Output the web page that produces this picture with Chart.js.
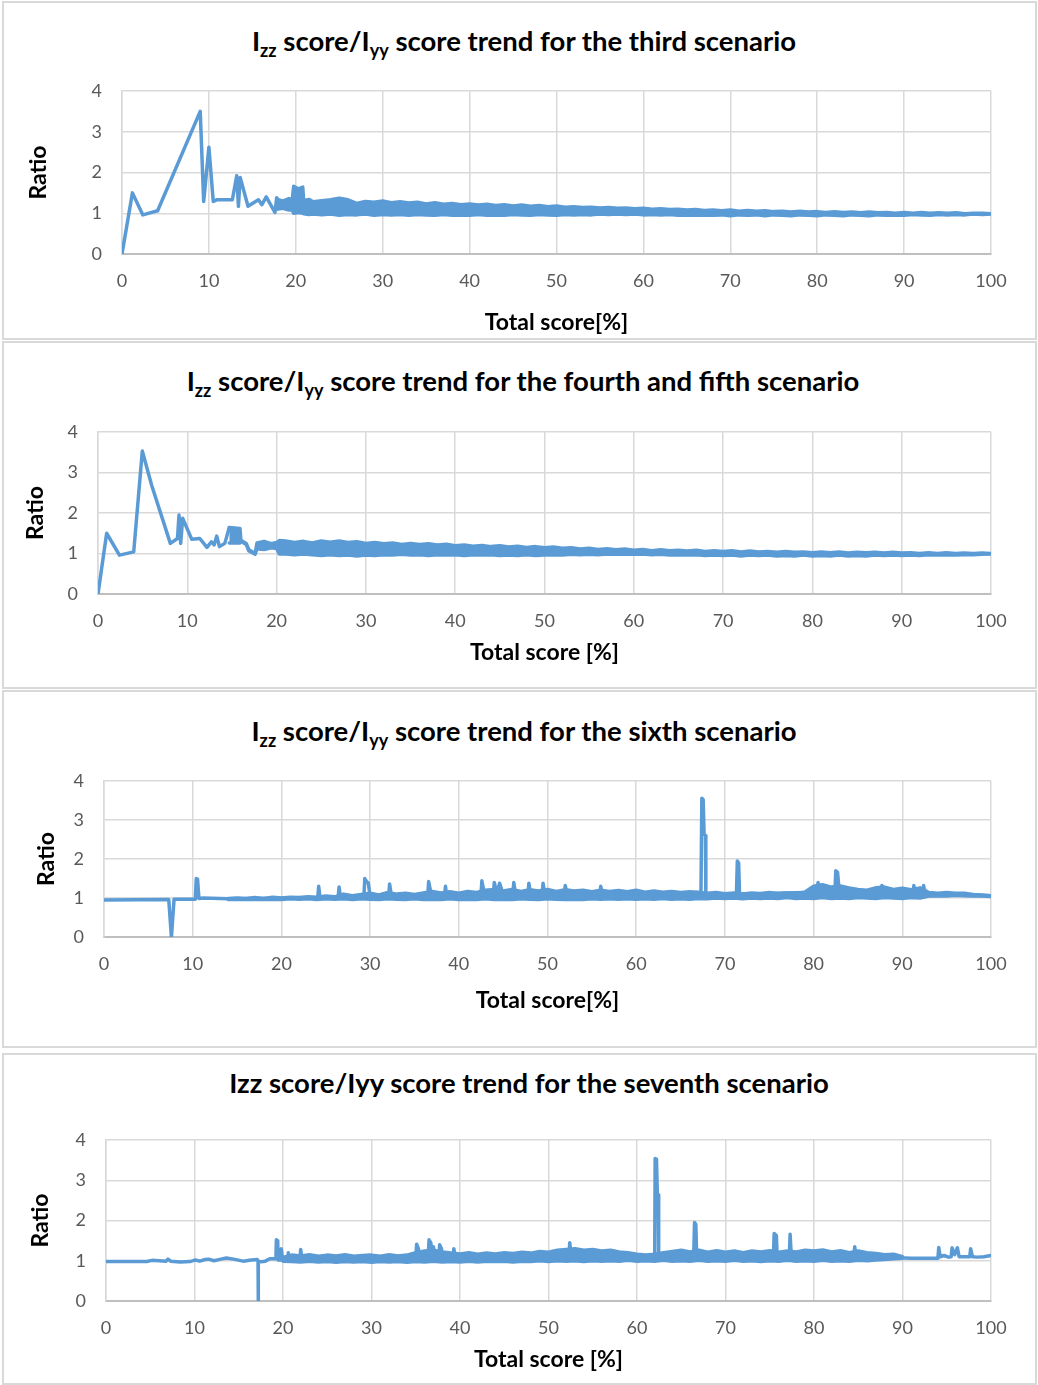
<!DOCTYPE html>
<html>
<head>
<meta charset="utf-8">
<script src="https://cdn.jsdelivr.net/npm/chart.js@4.4.1/dist/chart.umd.min.js"></script>
<style>
  body { margin: 0; background: #fff; width: 1038px; height: 1385px; position: relative; overflow: hidden; font-family: Lato, sans-serif; }
  .panel { position: absolute; left: 2px; width: 1035px; border: 2px solid #d9d9d9; box-sizing: border-box; }
  .wrap { position: absolute; left: 0; width: 1038px; }
  .ttl { position: absolute; width: 1000px; text-align: center; font-weight: bold; font-size: 27.5px; line-height: 30px; color: #000; white-space: nowrap; }
  .ttl sub { font-size: 18px; vertical-align: -6px; line-height: 0; }
</style>
</head>
<body>
<div class="panel" style="top:1px;height:339px"></div>
<div class="panel" style="top:341px;height:348px"></div>
<div class="panel" style="top:690px;height:358px"></div>
<div class="panel" style="top:1053px;height:332px"></div>

<div class="ttl" style="left:24px;top:26px">I<sub>zz</sub> score/I<sub>yy</sub> score trend for the third scenario</div>
<div class="ttl" style="left:23px;top:366px">I<sub>zz</sub> score/I<sub>yy</sub> score trend for the fourth and fifth scenario</div>
<div class="ttl" style="left:24px;top:716px">I<sub>zz</sub> score/I<sub>yy</sub> score trend for the sixth scenario</div>
<div class="ttl" style="left:29px;top:1068px">Izz score/Iyy score trend for the seventh scenario</div>

<div class="wrap" style="top:0px"><canvas id="c1" width="1038" height="340"></canvas></div>
<div class="wrap" style="top:340px"><canvas id="c2" width="1038" height="350"></canvas></div>
<div class="wrap" style="top:690px"><canvas id="c3" width="1038" height="360"></canvas></div>
<div class="wrap" style="top:1050px"><canvas id="c4" width="1038" height="335"></canvas></div>

<script>
// ---- data ----
const xTicks = [0, 10, 20, 30, 40, 50, 60, 70, 80, 90, 100];
const yTicks = [0, 1, 2, 3, 4];

// third scenario: sparse start, then a dense noisy band (upper / lower edge)
const traceX1 = [0, 1.2, 2.4, 4.1, 9.0, 9.4, 10.0, 10.5, 10.9, 12.7, 13.2, 13.4, 13.6, 14.5, 15.7, 16.1, 16.6, 17.6, 17.8, 18.4];
const traceY1 = [0, 1.5, 0.96, 1.06, 3.5, 1.29, 2.62, 1.29, 1.33, 1.33, 1.92, 1.17, 1.88, 1.17, 1.33, 1.21, 1.4, 1.02, 1.38, 1.2];
const bandX1 = [17.8, 18.5, 19.2, 19.6, 19.75, 20.3, 20.8, 20.9, 21.5,
  22, 23, 24, 25, 26, 27, 28, 29, 30, 31, 32, 33, 34, 35, 36, 37, 38, 39, 40, 41,
  42, 43, 44, 45, 46, 47, 48, 49, 50, 51, 52, 53, 54, 55, 56, 57, 58, 59, 60, 61,
  62, 63, 64, 65, 66, 67, 68, 69, 70, 71, 72, 73, 74, 75, 76, 77, 78, 79, 80, 81,
  82, 83, 84, 85, 86, 87, 88, 89, 90, 91, 92, 93, 94, 95, 96, 97, 98, 99, 100];
const bandHi1 = [1.34, 1.3, 1.36, 1.34, 1.66, 1.6, 1.64, 1.31, 1.34,
  1.28, 1.31, 1.33, 1.37, 1.33, 1.24, 1.29, 1.27, 1.3, 1.26, 1.28, 1.25, 1.27, 1.23, 1.26, 1.22, 1.24, 1.21, 1.23, 1.2,
  1.22, 1.19, 1.21, 1.18, 1.2, 1.17, 1.19, 1.16, 1.18, 1.15, 1.16, 1.14, 1.15, 1.13, 1.14, 1.12, 1.13, 1.11, 1.12, 1.1,
  1.11, 1.09, 1.1, 1.08, 1.09, 1.07, 1.08, 1.06, 1.08, 1.05, 1.07, 1.05, 1.06, 1.04, 1.05, 1.03, 1.05, 1.03, 1.04, 1.02,
  1.04, 1.02, 1.03, 1.01, 1.03, 1.01, 1.02, 1.0, 1.02, 1.0, 1.02, 1.0, 1.01, 1.0, 1.01, 0.99, 1.0, 1.0, 0.99];
const bandLo1 = [1.1, 1.12, 1.08, 1.08, 1.0, 1.02, 1.0, 0.99, 0.97,
  0.98, 0.96, 0.98, 0.95, 0.97, 0.96, 0.98, 0.95, 0.97, 0.96, 0.97, 0.95, 0.97, 0.96, 0.95, 0.97, 0.95, 0.96, 0.95, 0.97,
  0.95, 0.96, 0.95, 0.97, 0.96, 0.95, 0.97, 0.96, 0.95, 0.97, 0.96, 0.97, 0.96, 0.98, 0.97, 0.98, 0.97, 0.98, 0.96, 0.97,
  0.96, 0.97, 0.95, 0.96, 0.95, 0.96, 0.95, 0.96, 0.94, 0.96, 0.95, 0.96, 0.94, 0.96, 0.95, 0.94, 0.96, 0.95, 0.94, 0.96,
  0.95, 0.94, 0.96, 0.95, 0.94, 0.96, 0.95, 0.96, 0.95, 0.97, 0.96, 0.95, 0.97, 0.96, 0.97, 0.96, 0.98, 0.97, 0.98];

// fourth and fifth scenario
const traceX2 = [0, 0.97, 2.4, 4.0, 4.96, 6.0, 8.1, 8.9, 9.07, 9.26, 9.48, 10.5, 11.4, 12.2, 12.7, 13.0, 13.3, 13.6, 14.2, 14.7];
const traceY2 = [0, 1.5, 0.96, 1.04, 3.53, 2.69, 1.25, 1.37, 1.95, 1.25, 1.87, 1.35, 1.37, 1.15, 1.29, 1.21, 1.43, 1.17, 1.25, 1.64];
const bandX2 = [14.7, 15.9, 16.0, 16.6, 16.9, 17.6, 17.8, 18.6, 19.4, 20.0, 20.3,
  21, 22, 23, 24, 25, 26, 27, 28, 29, 30, 31, 32, 33, 34, 35, 36, 37, 38, 39, 40,
  41, 42, 43, 44, 45, 46, 47, 48, 49, 50, 51, 52, 53, 54, 55, 56, 57, 58, 59, 60,
  61, 62, 63, 64, 65, 66, 67, 68, 69, 70, 71, 72, 73, 74, 75, 76, 77, 78, 79, 80,
  81, 82, 83, 84, 85, 86, 87, 88, 89, 90, 91, 92, 93, 94, 95, 96, 97, 98, 99, 100];
const bandHi2 = [1.64, 1.62, 1.33, 1.25, 1.09, 1.0, 1.26, 1.3, 1.24, 1.27, 1.32,
  1.31, 1.27, 1.3, 1.26, 1.31, 1.28, 1.31, 1.27, 1.29, 1.25, 1.27, 1.24, 1.26, 1.22, 1.25, 1.22, 1.24, 1.21, 1.23, 1.19,
  1.21, 1.18, 1.2, 1.17, 1.19, 1.16, 1.18, 1.15, 1.17, 1.14, 1.16, 1.13, 1.14, 1.11, 1.13, 1.1, 1.12, 1.09, 1.11, 1.08,
  1.1, 1.07, 1.09, 1.07, 1.08, 1.06, 1.08, 1.05, 1.07, 1.05, 1.07, 1.04, 1.06, 1.04, 1.05, 1.03, 1.05, 1.03, 1.04, 1.02,
  1.04, 1.02, 1.04, 1.01, 1.03, 1.02, 1.03, 1.01, 1.03, 1.01, 1.02, 1.0, 1.02, 1.0, 1.02, 1.0, 1.01, 1.0, 1.01, 1.0];
const bandLo2 = [1.26, 1.26, 1.3, 1.22, 1.06, 0.98, 1.12, 1.1, 1.14, 1.12, 0.99,
  0.99, 0.97, 0.99, 0.97, 0.95, 0.97, 0.95, 0.96, 0.94, 0.96, 0.95, 0.97, 0.96, 0.98, 0.96, 0.97, 0.95, 0.97, 0.96, 0.97,
  0.95, 0.97, 0.96, 0.97, 0.95, 0.96, 0.95, 0.97, 0.95, 0.96, 0.97, 0.96, 0.98, 0.97, 0.98, 0.97, 0.99, 0.98, 0.99, 0.98,
  0.99, 0.97, 0.98, 0.96, 0.97, 0.96, 0.97, 0.95, 0.96, 0.95, 0.96, 0.94, 0.96, 0.95, 0.96, 0.94, 0.95, 0.94, 0.96, 0.94,
  0.95, 0.94, 0.96, 0.94, 0.95, 0.94, 0.96, 0.95, 0.96, 0.95, 0.96, 0.95, 0.97, 0.96, 0.97, 0.96, 0.97, 0.97, 0.98, 0.99];

// sixth scenario
const traceX3 = [0, 7.3, 7.6, 7.9, 10.3, 10.4, 10.55, 10.7, 11.2, 14.0,
  24.1, 24.2, 24.35, 26.4, 26.5, 26.65, 29.3, 29.4, 29.6, 29.8, 30.0, 32.1, 32.2, 32.4, 36.5, 36.6, 36.9, 38.4, 38.5, 38.6,
  42.5, 42.6, 42.9, 43.9, 44.0, 44.3, 44.6, 45.0, 46.1, 46.2, 46.4, 47.8, 47.9, 48.1, 49.4, 49.5, 49.7, 51.9, 52.0, 52.2, 55.9, 56.0, 56.2,
  67.3, 67.4, 67.55, 67.65, 67.8, 67.85, 71.3, 71.4, 71.55, 71.65, 80.4, 80.5, 80.7, 82.4, 82.5, 82.7, 82.9, 87.6, 87.7, 87.9,
  91.2, 91.3, 91.5, 92.3, 92.4, 92.6, 97.5, 100];
const traceY3 = [0.95, 0.96, 0, 0.97, 0.97, 1.5, 1.48, 0.99, 1.0, 0.98,
  1.0, 1.3, 1.02, 1.02, 1.28, 1.03, 1.03, 1.5, 1.42, 1.38, 1.05, 1.05, 1.36, 1.05, 1.05, 1.42, 1.08, 1.08, 1.3, 1.08,
  1.08, 1.44, 1.08, 1.08, 1.4, 1.1, 1.38, 1.1, 1.1, 1.4, 1.1, 1.1, 1.38, 1.1, 1.1, 1.38, 1.1, 1.1, 1.32, 1.1, 1.1, 1.3, 1.1,
  1.1, 3.56, 3.52, 2.64, 2.6, 1.1, 1.1, 1.95, 1.9, 1.1, 1.15, 1.4, 1.15, 1.15, 1.7, 1.66, 1.15, 1.15, 1.32, 1.15,
  1.1, 1.32, 1.1, 1.1, 1.32, 1.1, 1.08, 1.06];
const bandX3 = [14, 15, 16, 17, 18, 19, 20, 21, 22, 23, 24, 25, 26, 27, 28, 29, 30, 31, 32, 33, 34, 35, 36, 37, 38, 39, 40,
  41, 42, 43, 44, 45, 46, 47, 48, 49, 50, 51, 52, 53, 54, 55, 56, 57, 58, 59, 60,
  61, 62, 63, 64, 65, 66, 67, 68, 69, 70, 71, 72, 73, 74, 75, 76, 77, 78, 79, 80,
  81, 82, 83, 84, 85, 86, 87, 88, 89, 90, 91, 92, 93, 94, 95, 96, 97, 98, 99, 100];
const bandHi3 = [0.99, 1.0, 0.99, 1.01, 0.99, 1.02, 1.0, 1.02, 1.01, 1.03, 1.02, 1.05, 1.03, 1.1, 1.06, 1.09, 1.12, 1.08, 1.14, 1.1, 1.12, 1.09, 1.13, 1.17, 1.13, 1.16, 1.12,
  1.17, 1.14, 1.2, 1.22, 1.18, 1.22, 1.17, 1.21, 1.18, 1.22, 1.17, 1.21, 1.18, 1.2, 1.16, 1.2, 1.17, 1.19, 1.16, 1.2,
  1.15, 1.18, 1.15, 1.17, 1.14, 1.16, 1.15, 1.12, 1.14, 1.11, 1.13, 1.1, 1.13, 1.11, 1.14, 1.11, 1.13, 1.12, 1.15, 1.3,
  1.34, 1.28, 1.31, 1.26, 1.22, 1.2, 1.26, 1.28, 1.22, 1.25, 1.21, 1.26, 1.14, 1.12, 1.14, 1.12, 1.12, 1.09, 1.08, 1.06];
const bandLo3 = [0.96, 0.97, 0.96, 0.97, 0.96, 0.97, 0.96, 0.98, 0.97, 0.98, 0.96, 0.98, 0.97, 0.98, 0.96, 0.98, 0.97, 0.96, 0.98, 0.97, 0.96, 0.98, 0.96, 0.97, 0.96, 0.98, 0.96,
  0.97, 0.96, 0.98, 0.96, 0.97, 0.96, 0.98, 0.97, 0.96, 0.98, 0.97, 0.96, 0.97, 0.96, 0.98, 0.97, 0.98, 0.97, 0.98, 0.97,
  0.98, 0.97, 0.99, 0.97, 0.98, 0.97, 0.99, 0.98, 1.0, 0.99, 1.0, 0.98, 1.0, 0.99, 1.0, 0.99, 1.01, 0.99, 1.0, 0.99,
  1.01, 0.99, 1.0, 0.99, 1.01, 1.0, 0.99, 1.01, 1.0, 0.99, 1.01, 1.0, 1.05, 1.06, 1.05, 1.07, 1.06, 1.05, 1.05, 1.04];

// seventh scenario
const traceX4 = [0, 4.6, 5.2, 6.0, 6.8, 7.0, 7.3, 8.4, 9.5, 10.1, 10.6, 11.2, 11.6, 12.2, 13.0, 13.6, 14.4, 15.5, 16.4, 17.1, 17.18, 17.2, 17.22,
  18.0, 18.5, 19.2, 19.25, 19.4, 19.45, 19.75, 19.8, 19.95, 20.55, 20.6, 20.75, 21.9, 22.0, 22.15,
  35.0, 35.1, 35.3, 35.5, 36.4, 36.5, 36.7, 36.9, 37.0, 37.2, 37.6, 37.7, 37.9, 38.1, 39.2, 39.3, 39.5, 52.3, 52.4, 52.6,
  62.0, 62.05, 62.2, 62.3, 62.4, 62.45, 66.4, 66.5, 66.65, 66.75, 75.4, 75.5, 75.75, 75.85, 77.2, 77.3, 77.45, 84.5, 84.6, 84.8,
  89.0, 90.2, 91.0, 94.0, 94.1, 94.25, 94.7, 95.2, 95.5, 95.6, 95.9, 96.2, 96.4, 97.6, 97.7, 97.9, 98.5, 99.2, 100];
const traceY4 = [0.98, 0.98, 1.01, 1.0, 0.99, 1.04, 0.99, 0.97, 0.98, 1.02, 0.99, 1.03, 1.04, 1.0, 1.04, 1.07, 1.04, 0.99, 1.02, 1.03, 1.0, 0, 0.97,
  0.99, 1.05, 1.05, 1.52, 1.5, 1.02, 1.02, 1.3, 1.02, 1.02, 1.2, 1.02, 1.02, 1.28, 1.02,
  1.05, 1.41, 1.3, 1.05, 1.05, 1.52, 1.45, 1.05, 1.35, 1.05, 1.05, 1.4, 1.3, 1.05, 1.05, 1.3, 1.05, 1.05, 1.45, 1.05,
  1.05, 3.54, 3.52, 2.66, 2.64, 1.05, 1.05, 1.95, 1.9, 1.05, 1.05, 1.68, 1.62, 1.05, 1.05, 1.66, 1.05, 1.05, 1.35, 1.05,
  1.08, 1.07, 1.06, 1.06, 1.33, 1.1, 1.13, 1.09, 1.1, 1.32, 1.15, 1.32, 1.1, 1.1, 1.3, 1.1, 1.09, 1.1, 1.13];
const bandX4 = [20, 21, 22, 23, 24, 25, 26, 27, 28, 29, 30, 31, 32, 33, 34, 35, 36, 37, 38, 39, 40,
  41, 42, 43, 44, 45, 46, 47, 48, 49, 50, 51, 52, 53, 54, 55, 56, 57, 58, 59, 60,
  61, 62, 63, 64, 65, 66, 67, 68, 69, 70, 71, 72, 73, 74, 75, 76, 77, 78, 79, 80,
  81, 82, 83, 84, 85, 86, 87, 88, 89, 90];
const bandHi4 = [1.08, 1.14, 1.12, 1.15, 1.11, 1.14, 1.12, 1.15, 1.11, 1.13, 1.14, 1.11, 1.15, 1.12, 1.14, 1.2, 1.24, 1.26, 1.22, 1.19, 1.17,
  1.2, 1.16, 1.19, 1.17, 1.2, 1.18, 1.21, 1.19, 1.23, 1.21, 1.26, 1.28, 1.3, 1.26, 1.28, 1.24, 1.26, 1.22, 1.2, 1.16,
  1.14, 1.16, 1.2, 1.23, 1.26, 1.22, 1.26, 1.21, 1.25, 1.21, 1.24, 1.2, 1.24, 1.22, 1.25, 1.21, 1.24, 1.22, 1.26, 1.24,
  1.27, 1.22, 1.25, 1.2, 1.24, 1.2, 1.18, 1.15, 1.16, 1.1];
const bandLo4 = [0.99, 0.98, 0.97, 0.99, 0.97, 0.98, 0.96, 0.98, 0.97, 0.98, 0.96, 0.98, 0.97, 0.98, 0.96, 0.98, 0.97, 0.99, 0.97, 0.98, 0.97,
  0.99, 0.97, 0.99, 0.98, 0.99, 0.97, 0.99, 0.98, 1.0, 0.98, 1.0, 0.99, 1.0, 0.98, 1.0, 0.99, 1.0, 0.99, 1.01, 0.99,
  1.0, 0.99, 1.01, 0.99, 1.0, 0.99, 1.01, 0.99, 1.0, 0.99, 1.01, 0.99, 1.0, 0.98, 1.0, 0.99, 1.01, 0.99, 1.0, 0.99,
  1.01, 0.99, 1.0, 0.99, 1.01, 1.0, 1.02, 1.03, 1.05, 1.06];

const BLUE = '#5B9BD5';

function pts(xs, ys) {
  return xs.map((x, i) => ({ x: x, y: ys[i] }));
}

function makeChart(id, tx, ty, bx, hi, lo, lay) {
  const lineStyle = { borderColor: BLUE, borderWidth: 3.5, pointRadius: 0, tension: 0, borderJoinStyle: 'round', borderCapStyle: 'round' };
  const tickFont = { family: 'Lato', size: 18 };
  const titleFont = { family: 'Lato', size: 23, weight: 'bold' };

  new Chart(document.getElementById(id), {
    type: 'line',
    data: {
      datasets: [
        Object.assign({ data: pts(bx, hi), fill: false }, lineStyle),
        Object.assign({ data: pts(bx, lo), fill: '-1', backgroundColor: BLUE }, lineStyle),
        Object.assign({ data: pts(tx, ty), fill: false }, lineStyle)
      ]
    },
    options: {
      responsive: false,
      animation: false,
      events: [],
      layout: { padding: { left: lay.padL, right: 47, top: lay.padT, bottom: lay.padB } },
      plugins: { legend: { display: false }, tooltip: { enabled: false } },
      scales: {
        x: {
          type: 'linear', min: xTicks[0], max: xTicks[xTicks.length - 1],
          afterBuildTicks: s => { s.ticks = xTicks.map(v => ({ value: v })); },
          ticks: { padding: 16, color: '#595959', font: tickFont },
          grid: { color: '#d9d9d9', lineWidth: 1.5, drawTicks: false },
          border: { color: '#bfbfbf', width: 2 },
          title: { display: true, text: lay.xTitle, color: '#000', font: titleFont, padding: 0 },
          afterFit: s => { s.height = lay.xH; }
        },
        y: {
          min: yTicks[0], max: yTicks[yTicks.length - 1],
          afterBuildTicks: s => { s.ticks = yTicks.map(v => ({ value: v })); },
          ticks: { padding: 20, color: '#595959', font: tickFont },
          grid: { color: '#d9d9d9', lineWidth: 1.5, drawTicks: false },
          border: { color: '#d9d9d9', width: 1.5 },
          title: { display: true, text: 'Ratio', color: '#000', font: titleFont, padding: 0 },
          afterFit: s => { s.width = lay.yW; }
        }
      }
    }
  });
}

makeChart('c1', traceX1, traceY1, bandX1, bandHi1, bandLo1, { padL: 25, yW: 97, padT: 91, padB: 4, xH: 82, xTitle: 'Total score[%]' });
makeChart('c2', traceX2, traceY2, bandX2, bandHi2, bandLo2, { padL: 22, yW: 76, padT: 92, padB: 24, xH: 72, xTitle: 'Total score [%]' });
makeChart('c3', traceX3, traceY3, bandX3, bandHi3, bandLo3, { padL: 33, yW: 71, padT: 91, padB: 36, xH: 77, xTitle: 'Total score[%]' });
makeChart('c4', traceX4, traceY4, bandX4, bandHi4, bandLo4, { padL: 27, yW: 79, padT: 90, padB: 12, xH: 72, xTitle: 'Total score [%]' });
</script>
</body>
</html>
